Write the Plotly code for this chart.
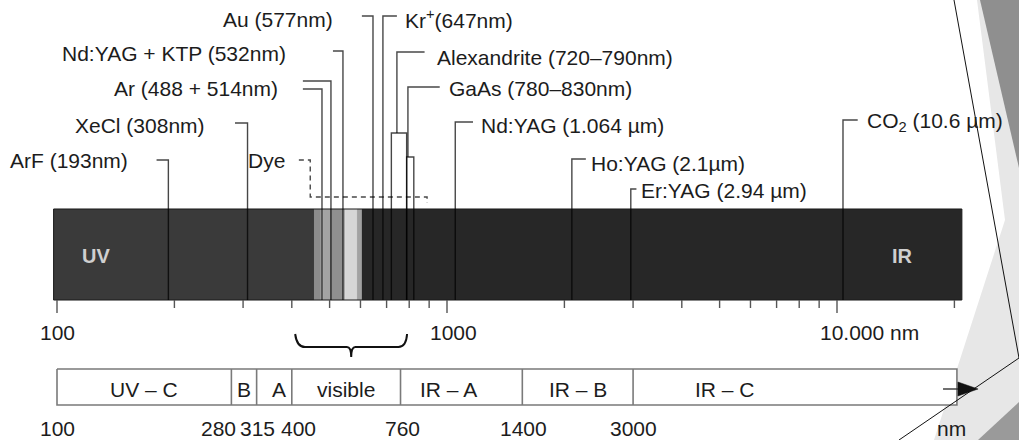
import numpy as np
import plotly.graph_objects as go

# ---------------- data (wavelengths in nm) ----------------
# upper spectrum bar: segment edges and grey tones
bar_edges_nm = [98, 456, 475, 481, 501, 541, 548, 588, 605, 20900]
bar_colors = ["#3a3a3a", "#8c8c8c", "#b6b6b6", "#a3a3a3", "#8f8f8f",
              "#a6a6a6", "#d6d6d6", "#a2a2a2", "#272727"]

# laser marker lines (elbow leaders)
leader_line_nm = [193, 308, 478, 504, 541, 646, 685, 744, 794, 1050, 2090, 2960, 10360]
leader_end_nm = [180, 286, 427, 427, 510, 605, 744, 876, 958, 1166, 2270, 3060, 11300]
leader_y = [160, 123, 89, 81, 51, 16, 16, 52, 87, 122, 159, 189, 120]
leader_bottom = [300, 300, 300, 300, 300, 300, 300, 133, 157, 300, 300, 300, 300]

# tunable-range boxes (Alexandrite, GaAs)
box_lo_nm = [720, 788]
box_hi_nm = [788, 822]
box_top = [133, 157]

# dye laser (dashed bracket)
dye_x_nm = [417, 446, 446, 889, 889]
dye_y = [160, 160, 197, 197, 203]

# laser labels
laser_labels = ["ArF (193nm)", "XeCl (308nm)", "Ar (488 + 514nm)", "Nd:YAG + KTP (532nm)",
                "Au (577nm)", "Dye",
                "Kr<sup>+</sup>(647nm)", "Alexandrite (720–790nm)", "GaAs (780–830nm)",
                "Nd:YAG (1.064 µm)", "Ho:YAG (2.1µm)", "Er:YAG (2.94 µm)",
                "CO<sub>2</sub> (10.6 µm)"]
label_side = ["right", "right", "right", "right", "right", "right",
              "left", "left", "left", "left", "left", "left", "left"]
label_anchor_nm = [154, 242, 373, 391, 516, 389, 771, 932, 1000, 1210, 2310, 3100, 11800]
label_y = [160, 125, 88, 53, 19, 160, 19, 57, 88, 125, 163, 190, 122]

# upper axis
major_ticks = [100, 1000, 10000]
minor_ticks = [200, 300, 400, 500, 600, 700, 800, 900,
               2000, 3000, 4000, 5000, 6000, 7000, 8000, 9000, 20000]
axis_labels = ["100", "1000", "10.000 nm"]
axis_label_nm = [100, 1000, 10000]

# lower band bar
band_edges_nm = [100, 280, 325, 400, 760, 1560, 3000, 20300]
band_names = ["UV – C", "B", "A", "visible", "IR – A", "IR – B", "IR – C"]
band_label_nm = [167, 301, 371, 551, 1006, 2163, 5160]
edge_labels = ["100", "280", "315", "400", "760", "1400", "3000", "nm"]
edge_label_nm = [100, 259, 326, 415, 770, 1570, 3000, 19700]

# brace over the visible range
brace_lo_nm, brace_mid_nm, brace_hi_nm = 408, 568, 790

# ---------------- figure ----------------
W, H = 1019, 440
FONT = "Liberation Sans, Arial, Helvetica, sans-serif"
x_range = [2 - 57 / 390, 2 + 962 / 390]
BAR_T, BAR_B = 209, 300
LOW_T, LOW_B = 369, 405
LINE_C = "rgba(0,0,0,0.72)"

fig = go.Figure()


def rect(x0, x1, y0, y1, fill, line_color=None, lw=0):
    fig.add_trace(go.Scatter(
        x=[x0, x1, x1, x0, x0], y=[y0, y0, y1, y1, y0], mode="lines",
        fill="toself", fillcolor=fill,
        line=dict(color=line_color or fill, width=lw if lw else 0.1),
        hoverinfo="skip"))


def polyline(xs, ys, color, width, dash="solid"):
    fig.add_trace(go.Scatter(x=xs, y=ys, mode="lines",
                             line=dict(color=color, width=width, dash=dash),
                             hoverinfo="skip"))


# upper bar segments
for i, c in enumerate(bar_colors):
    rect(bar_edges_nm[i], bar_edges_nm[i + 1], BAR_T, BAR_B, c)
polyline([bar_edges_nm[0], bar_edges_nm[-1], bar_edges_nm[-1], bar_edges_nm[0], bar_edges_nm[0]],
         [BAR_T, BAR_T, BAR_B, BAR_B, BAR_T], "#1c1c1c", 1)

# elbow leader lines
xs, ys = [], []
for ln, le, ly, lb in zip(leader_line_nm, leader_end_nm, leader_y, leader_bottom):
    xs += [le, ln, ln, None]
    ys += [ly, ly, lb, None]
polyline(xs, ys, LINE_C, 1.4)

# boxes
xs, ys = [], []
for lo, hi, top in zip(box_lo_nm, box_hi_nm, box_top):
    xs += [lo, lo, hi, hi, None]
    ys += [BAR_B, top, top, BAR_B, None]
polyline(xs, ys, LINE_C, 1.4)

# dye dashed bracket
polyline(dye_x_nm, dye_y, LINE_C, 1.4, dash="5px,4px")

# axis ticks
xs, ys = [], []
for t in major_ticks:
    xs += [t, t, None]
    ys += [BAR_B, 313, None]
for t in minor_ticks:
    xs += [t, t, None]
    ys += [BAR_B, 308, None]
polyline(xs, ys, "#555555", 1.4)

# lower band bar
rect(band_edges_nm[0], band_edges_nm[-1], LOW_T, LOW_B, "white", "#7a7a7a", 1.6)
xs, ys = [], []
for e in band_edges_nm[1:-1]:
    xs += [e, e, None]
    ys += [LOW_T, LOW_B, None]
polyline(xs, ys, "#7a7a7a", 1.6)

# arrow at the end of the lower bar
polyline([18700, 20420], [389, 389], "#333333", 1.4)
fig.add_trace(go.Scatter(x=[20420, 23000, 20420, 20420], y=[382, 389, 396, 382],
                         mode="lines", fill="toself", fillcolor="#111111",
                         line=dict(color="#111111", width=0.5), hoverinfo="skip"))

# ---------------- shapes ----------------
shapes = []


def paper_path(pts):
    return "M " + " L ".join(f"{px / W:.5f},{1 - py / H:.5f}" for px, py in pts) + " Z"


# slide decoration on the right edge
shapes.append(dict(type="path", xref="paper", yref="paper", layer="below",
                   path=paper_path([(977, 0), (1019, 0), (1019, 440), (934, 440), (1005, 220)]),
                   fillcolor="#e7e7e7", line=dict(width=0)))
shapes.append(dict(type="path", xref="paper", yref="paper", layer="below",
                   path=paper_path([(980, 0), (1019, 0), (1019, 168)]),
                   fillcolor="#8f8f8f", line=dict(width=0)))
shapes.append(dict(type="path", xref="paper", yref="paper", layer="below",
                   path=paper_path([(978, 440), (1019, 440), (1019, 402)]),
                   fillcolor="#9a9a9a", line=dict(width=0)))
shapes.append(dict(type="line", xref="paper", yref="paper", layer="above",
                   x0=954 / W, y0=1, x1=1, y1=1 - 358 / H, line=dict(color="#111111", width=1)))
shapes.append(dict(type="line", xref="paper", yref="paper", layer="above",
                   x0=899 / W, y0=0, x1=1, y1=1 - 358 / H, line=dict(color="#111111", width=1)))

# brace (data coordinates)
bl, bm, bh = brace_lo_nm, brace_mid_nm, brace_hi_nm
brace_path = (f"M {bl},334 Q {bl * 1.01},347 {bl * 1.06},347 L {bm * 0.975},347 "
              f"Q {bm},347 {bm},357 Q {bm},347 {bm * 1.025},347 L {bh * 0.95},347 "
              f"Q {bh * 0.995},347 {bh},334")
shapes.append(dict(type="path", xref="x", yref="y", path=brace_path,
                   line=dict(color="#111111", width=2)))

# ---------------- annotations ----------------
ann = []
txt_font = dict(family=FONT, size=21, color="#1c1c1c")
for t, side, xn, yy in zip(laser_labels, label_side, label_anchor_nm, label_y):
    ann.append(dict(x=np.log10(xn), y=yy, xref="x", yref="y", text=t, showarrow=False,
                    xanchor=side, yanchor="middle", font=txt_font))

for t, xn, i in zip(axis_labels, axis_label_nm, range(3)):
    ann.append(dict(x=np.log10(xn), y=332, xref="x", yref="y", text=t, showarrow=False,
                    xanchor="center" if i < 2 else "left",
                    xshift=[0, 6, -19][i], yanchor="middle", font=txt_font))

for t, xn in zip(band_names, band_label_nm):
    ann.append(dict(x=np.log10(xn), y=389, xref="x", yref="y", text=t, showarrow=False,
                    xanchor="center", yanchor="middle", font=txt_font))

for t, xn in zip(edge_labels, edge_label_nm):
    ann.append(dict(x=np.log10(xn), y=428, xref="x", yref="y", text=t, showarrow=False,
                    xanchor="center", yanchor="middle", font=txt_font))

# region labels inside the bar
for t, xn in zip(["UV", "IR"], [126, 14680]):
    ann.append(dict(x=np.log10(xn), y=256, xref="x", yref="y", text=f"<b>{t}</b>",
                    showarrow=False, xanchor="center", yanchor="middle",
                    font=dict(family=FONT, size=20, color="#cfcfcf")))

fig.update_layout(
    width=W, height=H, margin=dict(l=0, r=0, t=0, b=0),
    paper_bgcolor="white", plot_bgcolor="rgba(0,0,0,0)", showlegend=False,
    xaxis=dict(type="log", range=x_range, visible=False, fixedrange=True),
    yaxis=dict(range=[H, 0], visible=False, fixedrange=True),
    shapes=shapes, annotations=ann,
)

fig.write_html("out.html", config={"displayModeBar": False},
               post_script="document.body.style.margin='0';")
